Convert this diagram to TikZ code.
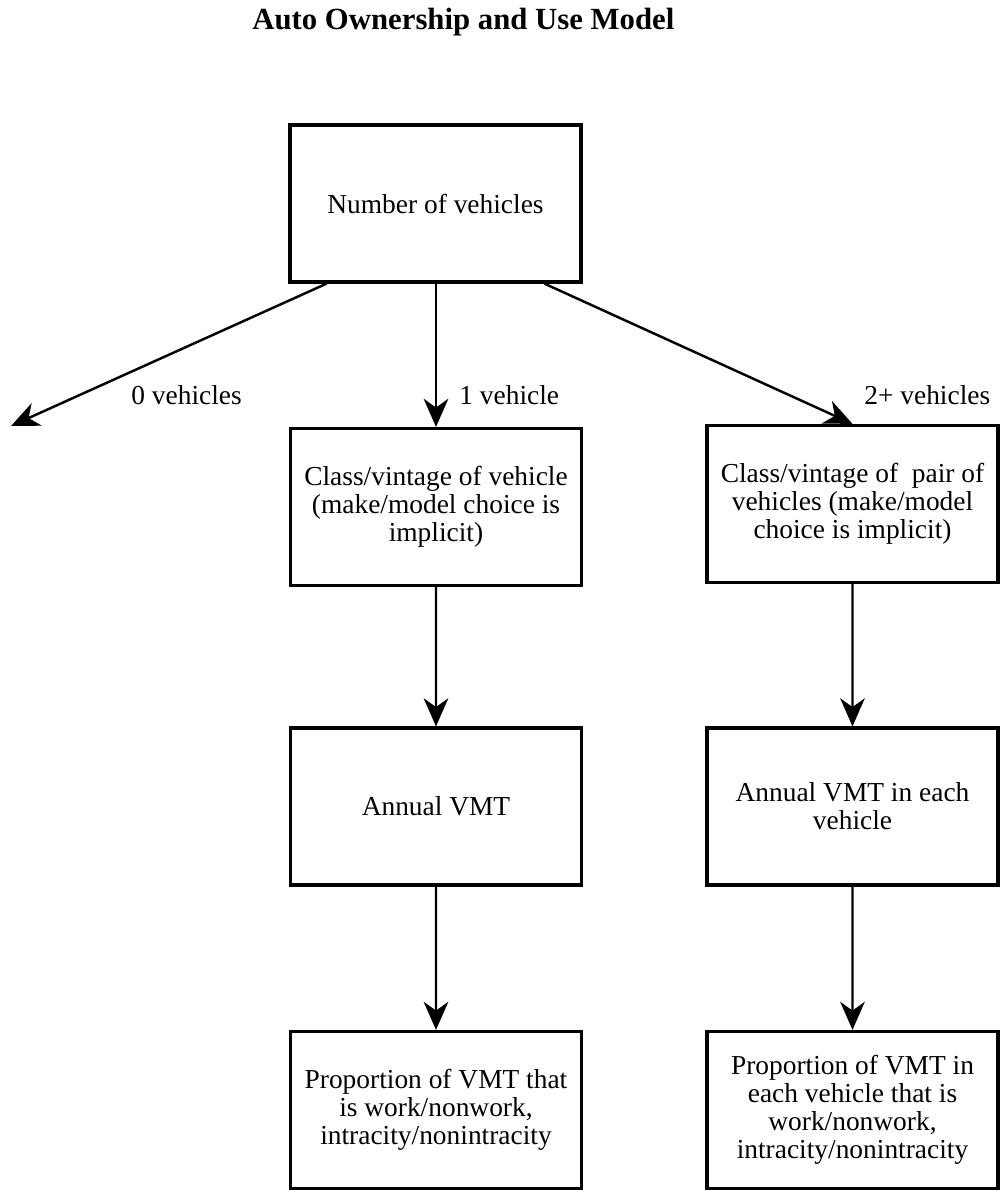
\documentclass[tikz,border=0pt]{standalone}
\usepackage{fontspec}
\setmainfont{Liberation Serif}
\usetikzlibrary{arrows.meta,calc}

\begin{document}
\begin{tikzpicture}[scale=0.2]
\tikzstyle{every node}+=[inner sep=0pt]
\tikzstyle{stage}=[draw=black, line width=1.8pt, minimum width=5.82cm, minimum height=3.14cm, align=center, font=\fontsize{15.6}{16}\selectfont]
\tikzstyle{branch}=[anchor=west, font=\fontsize{15.6}{16}\selectfont]
\tikzstyle{flow}=[draw=black, line width=1.4pt, -{Stealth[length=16pt, width=14pt, inset=5pt]}]
\useasboundingbox (0,0) rectangle (100,-119.1);
\draw (25.2,-2.2) node [anchor=west] (title) {\fontsize{17.5}{20}\selectfont\bfseries Auto Ownership and Use Model};
\node [stage] (num) at (43.55,-20.35) {Number of vehicles};
\node [stage] (cls1) at (43.6,-50.7) {Class/vintage of vehicle\\(make/model choice is\\implicit)};
\node [stage] (cls2) at (85.25,-50.4) {Class/vintage of\ \ pair of\\vehicles (make/model\\choice is implicit)};
\node [stage] (vmt1) at (43.6,-80.65) {Annual VMT};
\node [stage] (vmt2) at (85.25,-80.65) {Annual VMT in each\\vehicle};
\node [stage] (prop1) at (43.6,-111.0) {Proportion of VMT that\\is work/nonwork,\\intracity/nonintracity};
\node [stage] (prop2) at (85.25,-111.0) {Proportion of VMT in\\each vehicle that is\\work/nonwork,\\intracity/nonintracity};
\coordinate (none) at (1.1,-42.6);
% branches out of the number of vehicles
\draw [flow] ($(num.south)!0.74!(num.south west)$) -- (none);
\draw [flow] (num.south -| cls1.north) -- (cls1.north);
\draw [flow] ($(num.south)!0.74!(num.south east)$) -- (cls2.north);
\draw (13.1,-39.5) node [branch] (lzero) {0 vehicles};
\draw (45.9,-39.5) node [branch] (lone) {1 vehicle};
\draw (86.4,-39.5) node [branch] (ltwo) {2+ vehicles};
% one vehicle
\draw [flow] (cls1) -- (vmt1);
\draw [flow] (vmt1) -- (prop1);
% two or more vehicles
\draw [flow] (cls2) -- (vmt2);
\draw [flow] (vmt2) -- (prop2);
\end{tikzpicture}
\end{document}
